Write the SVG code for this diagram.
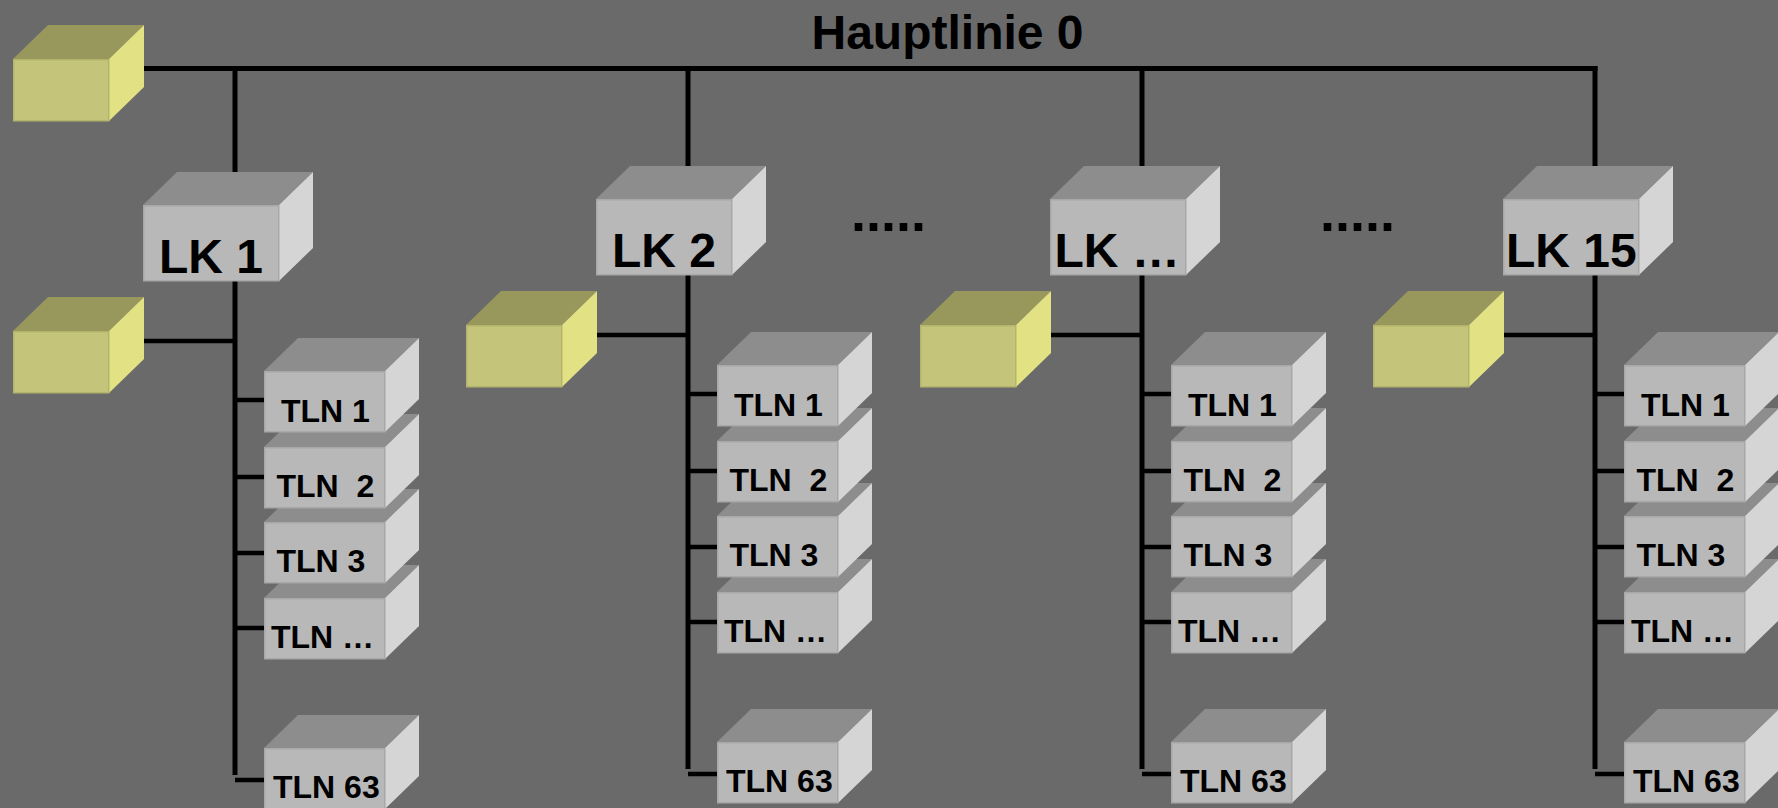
<svg xmlns="http://www.w3.org/2000/svg" xmlns:xlink="http://www.w3.org/1999/xlink" width="1778" height="808" viewBox="0 0 1778 808">
<style>
text{font-family:"Liberation Sans",Arial,sans-serif;font-weight:bold;fill:#000;white-space:pre}
.lk{font-size:48px}
.tln{font-size:32px}
.title{font-size:48px}
.dots{font-size:54px}
.gf{fill:#b8b8b8;stroke:#a8a8a8;stroke-width:1.5}
.gt{fill:#8d8d8d}
.gr{fill:#d5d5d5}
.yf{fill:#c4c47a;stroke:#b4b46c;stroke-width:1.5}
.yt{fill:#98985c}
.yr{fill:#e2e285}
.c{stroke:#000;stroke-width:5;fill:none}
.s{stroke:#000;stroke-width:4.5;fill:none}
</style>
<defs>
<g id="tlnbox">
<polygon class="gt" points="0,0 34,-33 155,-33 121,0"/>
<polygon class="gr" points="121,0 155,-33 155,28 121,61"/>
<rect class="gf" x="0.75" y="0.75" width="120" height="60"/>
</g>
<g id="lkbox">
<polygon class="gt" points="0,0 34,-33 170,-33 136,0"/>
<polygon class="gr" points="136,0 170,-33 170,43 136,76"/>
<rect class="gf" x="0.75" y="0.75" width="135" height="75"/>
</g>
<g id="ybox">
<polygon class="yt" points="0,0 35,-34 131,-34 96,0"/>
<polygon class="yr" points="96,0 131,-34 131,28 96,62"/>
<rect class="yf" x="0.75" y="0.75" width="95" height="61"/>
</g>
</defs>
<rect x="0" y="0" width="1778" height="808" fill="#6a6a6a"/>
<text class="title" x="811.5" y="49">Hauptlinie 0</text>
<text class="dots" x="851" y="231">.....</text>
<text class="dots" x="1320" y="231">.....</text>
<g id="connectors">
<line class="c" x1="143" y1="68.5" x2="1597.5" y2="68.5"/>
<line class="c" x1="235" y1="66" x2="235" y2="775"/>
<line class="c" x1="688" y1="66" x2="688" y2="769"/>
<line class="c" x1="1142" y1="66" x2="1142" y2="769"/>
<line class="c" x1="1595" y1="66" x2="1595" y2="769"/>
<line class="s" x1="143" y1="341" x2="235" y2="341"/>
<line class="s" x1="596" y1="335" x2="688" y2="335"/>
<line class="s" x1="1050" y1="335" x2="1142" y2="335"/>
<line class="s" x1="1503" y1="335" x2="1595" y2="335"/>
<path class="s" d="M235,400H264M235,477H264M235,553H264M235,628H264M235,780H264"/>
<path class="s" d="M688,394H717M688,471H717M688,547H717M688,622H717M688,774H717"/>
<path class="s" d="M1142,394H1171M1142,471H1171M1142,547H1171M1142,622H1171M1142,774H1171"/>
<path class="s" d="M1595,394H1624M1595,471H1624M1595,547H1624M1595,622H1624M1595,774H1624"/>
</g>
<g id="hl0"><use xlink:href="#ybox" x="13" y="59"/></g>
<g id="lk1"><use xlink:href="#lkbox" x="143" y="205"/><text class="lk" x="159" y="273">LK 1</text></g>
<g id="lk1-y"><use xlink:href="#ybox" x="13" y="331"/></g>
<g id="lk1-tln63"><use xlink:href="#tlnbox" x="264" y="748"/><text class="tln" x="273" y="798">TLN 63</text></g>
<g id="lk1-tlnx"><use xlink:href="#tlnbox" x="264" y="598"/><text class="tln" x="271" y="648">TLN …</text></g>
<g id="lk1-tln3"><use xlink:href="#tlnbox" x="264" y="522"/><text class="tln" x="276.5" y="572">TLN 3</text></g>
<g id="lk1-tln2"><use xlink:href="#tlnbox" x="264" y="447"/><text class="tln" x="276.5" y="497">TLN  2</text></g>
<g id="lk1-tln1"><use xlink:href="#tlnbox" x="264" y="371"/><text class="tln" x="281" y="422">TLN 1</text></g>
<g id="lk2"><use xlink:href="#lkbox" x="596" y="199"/><text class="lk" x="612" y="267">LK 2</text></g>
<g id="lk2-y"><use xlink:href="#ybox" x="466" y="325"/></g>
<g id="lk2-tln63"><use xlink:href="#tlnbox" x="717" y="742"/><text class="tln" x="726" y="792">TLN 63</text></g>
<g id="lk2-tlnx"><use xlink:href="#tlnbox" x="717" y="592"/><text class="tln" x="724" y="642">TLN …</text></g>
<g id="lk2-tln3"><use xlink:href="#tlnbox" x="717" y="516"/><text class="tln" x="729.5" y="566">TLN 3</text></g>
<g id="lk2-tln2"><use xlink:href="#tlnbox" x="717" y="441"/><text class="tln" x="729.5" y="491">TLN  2</text></g>
<g id="lk2-tln1"><use xlink:href="#tlnbox" x="717" y="365"/><text class="tln" x="734" y="416">TLN 1</text></g>
<g id="lkx"><use xlink:href="#lkbox" x="1050" y="199"/><text class="lk" x="1054.5" y="267">LK …</text></g>
<g id="lkx-y"><use xlink:href="#ybox" x="920" y="325"/></g>
<g id="lkx-tln63"><use xlink:href="#tlnbox" x="1171" y="742"/><text class="tln" x="1180" y="792">TLN 63</text></g>
<g id="lkx-tlnx"><use xlink:href="#tlnbox" x="1171" y="592"/><text class="tln" x="1178" y="642">TLN …</text></g>
<g id="lkx-tln3"><use xlink:href="#tlnbox" x="1171" y="516"/><text class="tln" x="1183.5" y="566">TLN 3</text></g>
<g id="lkx-tln2"><use xlink:href="#tlnbox" x="1171" y="441"/><text class="tln" x="1183.5" y="491">TLN  2</text></g>
<g id="lkx-tln1"><use xlink:href="#tlnbox" x="1171" y="365"/><text class="tln" x="1188" y="416">TLN 1</text></g>
<g id="lk15"><use xlink:href="#lkbox" x="1503" y="199"/><text class="lk" x="1506" y="267">LK 15</text></g>
<g id="lk15-y"><use xlink:href="#ybox" x="1373" y="325"/></g>
<g id="lk15-tln63"><use xlink:href="#tlnbox" x="1624" y="742"/><text class="tln" x="1633" y="792">TLN 63</text></g>
<g id="lk15-tlnx"><use xlink:href="#tlnbox" x="1624" y="592"/><text class="tln" x="1631" y="642">TLN …</text></g>
<g id="lk15-tln3"><use xlink:href="#tlnbox" x="1624" y="516"/><text class="tln" x="1636.5" y="566">TLN 3</text></g>
<g id="lk15-tln2"><use xlink:href="#tlnbox" x="1624" y="441"/><text class="tln" x="1636.5" y="491">TLN  2</text></g>
<g id="lk15-tln1"><use xlink:href="#tlnbox" x="1624" y="365"/><text class="tln" x="1641" y="416">TLN 1</text></g>
</svg>
